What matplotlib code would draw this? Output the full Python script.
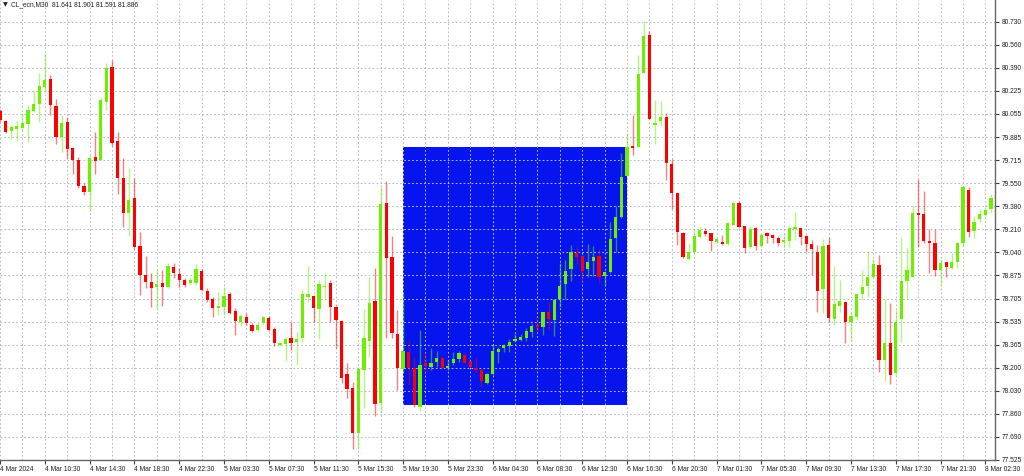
import matplotlib
matplotlib.use('Agg')
import matplotlib.pyplot as plt
from matplotlib import font_manager
from matplotlib.patches import Rectangle
from matplotlib.ticker import FixedLocator
import numpy as np

# CL_ecn M30 candles
opens = [80.079, 80.005, 79.932, 79.947, 79.950, 79.979, 80.076, 80.128, 80.254, 80.313,
         80.115, 79.888, 79.996, 79.804, 79.718, 79.528, 79.486, 79.738, 79.718, 80.140,
         80.396, 79.857, 79.584, 79.328, 79.440, 79.091, 78.877, 78.824, 78.787, 78.821,
         78.787, 78.933, 78.882, 78.841, 78.817, 78.817, 78.909, 78.762, 78.700, 78.638,
         78.645, 78.738, 78.614, 78.536, 78.568, 78.512, 78.475, 78.524, 78.561, 78.480,
         78.363, 78.373, 78.419, 78.390, 78.419, 78.719, 78.724, 78.626, 78.787, 78.817,
         78.645, 78.541, 78.153, 78.049, 77.720, 78.182, 78.397, 78.687, 77.939, 79.406,
         79.007, 78.446, 78.188, 78.316, 78.195, 77.914, 78.232, 78.207, 78.239, 78.268,
         78.195, 78.232, 78.263, 78.292, 78.251, 78.199, 78.182, 78.090, 78.151, 78.312,
         78.341, 78.358, 78.395, 78.402, 78.419, 78.463, 78.512, 78.499, 78.609, 78.548,
         78.702, 78.809, 78.919, 79.036, 79.016, 78.919, 78.980, 79.016, 78.870, 78.897,
         79.146, 79.299, 79.603, 79.820, 79.811, 80.356, 80.632, 79.973, 80.005, 80.035,
         79.689, 79.475, 79.186, 78.992, 79.048, 79.153, 79.199, 79.182, 79.116, 79.121,
         79.104, 79.246, 79.406, 79.235, 79.084, 79.223, 79.089, 79.182, 79.170, 79.146,
         79.121, 79.126, 79.211, 79.219, 79.162, 79.104, 79.048, 78.773, 79.097, 78.553,
         78.651, 78.682, 78.536, 78.568, 78.736, 78.797, 78.860, 78.950, 78.256, 78.378,
         78.158, 78.553, 78.833, 78.865, 79.328, 79.323, 79.126, 79.109, 78.914, 78.974,
         78.926, 78.970, 79.113, 79.499, 79.199, 79.284, 79.316, 79.360]
highs = [80.090, 80.010, 79.974, 80.011, 80.064, 80.120, 80.230, 80.352, 80.498, 80.340,
         80.162, 80.047, 80.030, 79.815, 79.742, 79.548, 79.755, 79.925, 80.181, 80.430,
         80.449, 79.925, 79.731, 79.662, 79.584, 79.194, 79.018, 78.890, 78.923, 78.914,
         78.963, 78.963, 78.926, 78.853, 78.863, 78.955, 78.919, 78.780, 78.714, 78.755,
         78.792, 78.755, 78.634, 78.592, 78.597, 78.524, 78.526, 78.577, 78.577, 78.499,
         78.390, 78.426, 78.536, 78.463, 78.768, 78.943, 78.731, 78.841, 78.894, 78.841,
         78.658, 78.548, 78.236, 78.097, 78.195, 78.626, 78.865, 78.926, 79.523, 79.567,
         79.162, 78.621, 78.755, 78.402, 78.280, 78.475, 78.316, 78.341, 78.324, 78.280,
         78.256, 78.316, 78.321, 78.305, 78.256, 78.275, 78.187, 78.158, 78.365, 78.353,
         78.373, 78.407, 78.446, 78.444, 78.487, 78.517, 78.561, 78.609, 78.682, 78.700,
         78.963, 78.987, 79.097, 79.084, 79.023, 79.102, 79.089, 79.065, 78.906, 79.267,
         79.382, 79.767, 79.918, 80.047, 80.486, 80.737, 80.664, 80.157, 80.152, 80.064,
         79.723, 79.479, 79.190, 79.109, 79.211, 79.230, 79.219, 79.186, 79.145, 79.170,
         79.267, 79.420, 79.420, 79.235, 79.235, 79.230, 79.182, 79.194, 79.177, 79.162,
         79.182, 79.243, 79.336, 79.223, 79.170, 79.133, 79.097, 79.138, 79.153, 78.943,
         78.841, 78.689, 78.609, 78.748, 78.914, 79.055, 78.994, 79.023, 78.700, 78.670,
         78.621, 79.157, 79.072, 79.389, 79.579, 79.494, 79.211, 79.211, 78.992, 78.974,
         79.038, 79.121, 79.528, 79.523, 79.309, 79.358, 79.377, 79.469]
lows = [80.000, 79.915, 79.869, 79.859, 79.937, 79.848, 80.071, 79.998, 80.217, 80.047,
        79.835, 79.774, 79.731, 79.614, 79.511, 79.462, 79.347, 79.614, 79.718, 80.084,
        79.820, 79.469, 79.230, 79.165, 79.065, 78.731, 78.780, 78.645, 78.638, 78.651,
        78.780, 78.853, 78.792, 78.792, 78.804, 78.804, 78.762, 78.682, 78.568, 78.585,
        78.585, 78.592, 78.439, 78.504, 78.512, 78.463, 78.470, 78.512, 78.470, 78.358,
        78.358, 78.251, 78.329, 78.219, 78.390, 78.682, 78.536, 78.407, 78.694, 78.536,
        78.341, 78.085, 77.976, 77.603, 77.603, 77.903, 78.275, 77.846, 77.878, 78.414,
        78.414, 78.036, 78.168, 78.073, 77.914, 77.885, 78.158, 78.182, 78.207, 78.188,
        78.182, 78.219, 78.243, 78.232, 78.202, 78.158, 78.060, 78.078, 78.146, 78.232,
        78.316, 78.312, 78.385, 78.397, 78.395, 78.426, 78.463, 78.439, 78.475, 78.431,
        78.645, 78.700, 78.836, 78.958, 78.828, 78.865, 78.870, 78.817, 78.799, 78.894,
        79.048, 79.294, 79.601, 79.755, 79.811, 80.356, 80.016, 79.835, 79.967, 79.572,
        79.358, 79.097, 79.000, 78.987, 79.043, 79.146, 79.162, 79.055, 79.110, 79.097,
        79.097, 79.243, 79.220, 79.040, 79.077, 79.060, 79.084, 79.113, 79.109, 79.091,
        79.072, 79.084, 79.133, 79.097, 79.048, 78.877, 78.609, 78.597, 78.536, 78.512,
        78.609, 78.382, 78.402, 78.548, 78.694, 78.714, 78.850, 78.170, 78.104, 78.080,
        78.146, 78.390, 78.707, 78.862, 79.080, 79.113, 78.890, 78.870, 78.804, 78.865,
        78.921, 78.926, 79.080, 79.153, 79.146, 79.267, 79.309, 79.333]
closes = [80.011, 79.921, 79.957, 79.967, 79.986, 80.084, 80.125, 80.261, 80.303, 80.120,
          79.888, 79.991, 79.796, 79.718, 79.530, 79.484, 79.735, 79.713, 80.157, 80.389,
          79.845, 79.584, 79.328, 79.426, 79.080, 78.877, 78.828, 78.780, 78.811, 78.792,
          78.943, 78.894, 78.841, 78.804, 78.841, 78.919, 78.768, 78.694, 78.634, 78.651,
          78.724, 78.601, 78.543, 78.577, 78.524, 78.470, 78.512, 78.568, 78.475, 78.378,
          78.378, 78.411, 78.382, 78.411, 78.736, 78.736, 78.634, 78.811, 78.797, 78.645,
          78.548, 78.122, 78.041, 77.720, 78.190, 78.414, 78.670, 77.932, 79.394, 78.999,
          78.451, 78.195, 78.324, 78.195, 77.927, 78.219, 78.214, 78.236, 78.268, 78.199,
          78.214, 78.263, 78.305, 78.236, 78.207, 78.182, 78.104, 78.153, 78.324, 78.338,
          78.365, 78.390, 78.409, 78.426, 78.470, 78.506, 78.495, 78.604, 78.555, 78.694,
          78.799, 78.906, 79.043, 79.007, 78.909, 78.974, 79.011, 78.865, 78.901, 79.140,
          79.303, 79.592, 79.811, 79.808, 80.347, 80.625, 80.016, 79.988, 80.030, 79.698,
          79.475, 79.194, 79.007, 79.048, 79.165, 79.206, 79.175, 79.128, 79.138, 79.104,
          79.260, 79.401, 79.230, 79.077, 79.211, 79.091, 79.170, 79.165, 79.146, 79.113,
          79.133, 79.219, 79.226, 79.157, 79.104, 79.065, 78.762, 79.089, 78.565, 78.665,
          78.687, 78.536, 78.577, 78.738, 78.787, 78.865, 78.955, 78.256, 78.378, 78.146,
          78.531, 78.836, 78.914, 79.328, 79.316, 79.128, 79.113, 78.914, 78.963, 78.938,
          78.974, 79.109, 79.523, 79.194, 79.265, 79.321, 79.352, 79.438]

time_labels = ['4 Mar 2024', '4 Mar 10:30', '4 Mar 14:30', '4 Mar 18:30', '4 Mar 22:30',
               '5 Mar 03:30', '5 Mar 07:30', '5 Mar 11:30', '5 Mar 15:30', '5 Mar 19:30',
               '5 Mar 23:30', '6 Mar 04:30', '6 Mar 08:30', '6 Mar 12:30', '6 Mar 16:30',
               '6 Mar 20:30', '7 Mar 01:30', '7 Mar 05:30', '7 Mar 09:30', '7 Mar 13:30',
               '7 Mar 17:30', '7 Mar 21:30', '8 Mar 02:30']
price_labels = ['77.525', '77.690', '77.860', '78.030', '78.200', '78.365', '78.535',
                '78.705', '78.875', '79.040', '79.210', '79.380', '79.550', '79.715',
                '79.885', '80.055', '80.225', '80.390', '80.560', '80.730']

# highlighted zone (bar index range and price range)
zone_bars = [72, 112]
zone_prices = [77.927, 79.810]

title = 'CL_ecn,M30  81.641 81.901 81.591 81.886'

# fonts - MT4 uses a narrow bitmap font
names = {f.name for f in font_manager.fontManager.ttflist}
if 'Liberation Sans Narrow' in names:
    fam, fs = 'Liberation Sans Narrow', 5.6
elif 'DejaVu Sans Condensed' in names:
    fam, fs = 'DejaVu Sans Condensed', 5.0
else:
    fam, fs = 'Liberation Sans', 4.8
plt.rcParams['font.family'] = [fam, 'DejaVu Sans']

up_col = '#6cf000'
dn_col = '#ff0000'
grid_col = '#b4bccb'

o = np.array(opens)
h = np.array(highs)
l = np.array(lows)
c = np.array(closes)
x = np.arange(len(o))
up = c >= o
cols = np.where(up, up_col, dn_col)

fig = plt.figure(figsize=(10.24, 4.76), dpi=100)
ax = fig.add_axes([0, 16 / 476, 995 / 1024, 460 / 476])

ax.add_patch(Rectangle((zone_bars[0], zone_prices[0]), zone_bars[1] - zone_bars[0],
                       zone_prices[1] - zone_prices[0], facecolor='#0614ee',
                       edgecolor='none', zorder=0.2))

ax.vlines(x, l, h, colors=cols, linewidth=1.0, alpha=0.5, zorder=3)
body_lo = np.minimum(o, c)
body_h = np.maximum(np.abs(c - o), 0.006)
ax.bar(x, body_h, bottom=body_lo, width=0.58, color=cols, linewidth=0, zorder=4)

step = (80.730 - 77.525) / (len(price_labels) - 1)
yt = 77.525 + step * np.arange(len(price_labels))
ax.set_ylim(77.525, 77.525 + step * 460 / 23.07)
ax.set_xlim(0.05, 177.73)

ax.yaxis.tick_right()
ax.set_yticks(yt)
ax.set_yticklabels(price_labels)
ax.set_xticks(np.arange(0, 8 * len(time_labels), 8))
ax.set_xticklabels(time_labels, ha='left')
ax.xaxis.set_minor_locator(FixedLocator(np.arange(4, 178, 8)))
ax.tick_params(axis='both', which='major', length=3, width=0.8, color='#404040',
               labelsize=fs, pad=1.5, labelcolor='#202020')
ax.tick_params(axis='x', which='minor', length=0)

ax.set_axisbelow(True)
ax.grid(True, which='both', color=grid_col, linestyle=(0, (1.6, 2.2)), linewidth=0.75)
for s in ['top', 'left']:
    ax.spines[s].set_visible(False)
for s in ['right', 'bottom']:
    ax.spines[s].set_color('#666666')
    ax.spines[s].set_linewidth(1.0)

fig.text(3 / 1024, 1 - 5 / 476, '\u25bc', fontsize=4.5, va='center', ha='left',
         family='DejaVu Sans', color='#202020')
fig.text(11 / 1024, 1 - 5 / 476, title, fontsize=fs, va='center', ha='left',
         color='#202020')

fig.savefig('out.png', dpi=100)
